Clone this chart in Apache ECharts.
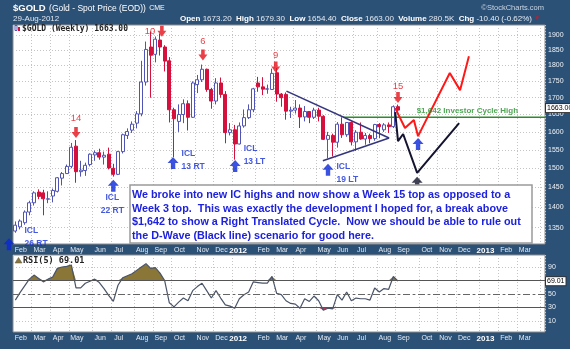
<!DOCTYPE html>
<html>
<head>
<meta charset="utf-8">
<script src="https://cdn.jsdelivr.net/npm/echarts@6.0.0/dist/echarts.min.js"></script>
<style>
html,body{margin:0;padding:0;background:#2c5177;}
#chart{width:570px;height:349px;}
</style>
</head>
<body>
<div id="chart"></div>
<script>
// ---------------- data ----------------
const MONTH_NAMES = ['Jan','Feb','Mar','Apr','May','Jun','Jul','Aug','Sep','Oct','Nov','Dec'];
const FIRST_WEEK = '2011-01-31';
const WEEK_COUNT = 114;

// weekly bars [open, high, low, close]
const weekOHLC = [
 [1342,1365,1338,1356],[1352,1370,1346,1366],[1362,1392,1357,1388],[1388,1416,1380,1411],
 [1411,1440,1404,1436],[1438,1445,1420,1427],[1436,1444,1380,1421],[1420,1440,1410,1421],
 [1428,1447,1412,1442],[1440,1477,1437,1475],[1474,1490,1455,1486],[1486,1510,1485,1505],
 [1505,1569,1500,1557],[1560,1577,1462,1491],[1491,1520,1478,1495],[1494,1515,1480,1508],
 [1510,1540,1505,1538],[1536,1548,1520,1542],[1542,1553,1523,1530],[1530,1545,1510,1535],
 [1538,1556,1497,1501],[1500,1512,1478,1484],[1484,1547,1482,1545],[1545,1595,1540,1592],
 [1590,1610,1580,1601],[1605,1630,1597,1622],[1625,1660,1610,1652],[1652,1815,1645,1748],
 [1748,1878,1737,1852],[1860,1912,1700,1833],[1836,1895,1810,1886],[1883,1905,1832,1860],
 [1860,1866,1781,1814],[1815,1827,1627,1664],[1664,1670,1530,1638],[1630,1680,1600,1650],
 [1650,1695,1625,1682],[1682,1692,1604,1642],[1642,1750,1640,1745],[1740,1770,1714,1755],
 [1755,1803,1748,1788],[1788,1790,1718,1725],[1725,1730,1667,1690],[1690,1760,1680,1745],
 [1745,1762,1700,1710],[1710,1720,1568,1598],[1598,1625,1590,1606],[1606,1620,1523,1566],
 [1566,1627,1565,1617],[1617,1665,1612,1641],[1641,1680,1637,1664],[1664,1730,1657,1727],
 [1745,1764,1718,1733],[1733,1763,1708,1726],[1726,1740,1712,1727],[1725,1790,1724,1775],
 [1777,1792,1688,1711],[1711,1714,1673,1700],[1710,1716,1635,1660],[1660,1673,1640,1663],
 [1663,1693,1653,1669],[1669,1680,1611,1643],[1643,1675,1630,1659],[1659,1660,1625,1642],
 [1642,1670,1637,1663],[1663,1670,1630,1645],[1645,1648,1577,1579],[1579,1600,1527,1590],
 [1590,1595,1532,1571],[1571,1628,1556,1622],[1622,1642,1583,1592],[1592,1628,1586,1627],
 [1627,1630,1562,1572],[1572,1605,1547,1599],[1599,1627,1578,1580],[1580,1597,1564,1590],
 [1590,1595,1568,1581],[1581,1623,1575,1621],[1621,1625,1582,1615],[1606,1625,1600,1620],
 [1620,1627,1597,1615],[1615,1677,1611,1673],[1673.2,1679.3,1654.4,1663.0]
];

const rsi5 = [41,52,62,72,78,73,68,72,75,88,90,91,93,59,59,66,69,72,67,58,
 48,39,63,74,77,80,85,90,95,88,89,81,70,37,31,38,44,40,55,61,
 66,55,44,55,44,34,32,29,43,49,53,68,67,66,66,76,51,49,40,36,
 35,29,43,39,47,40,26,29,28,49,41,53,40,44,43,43,41,59,53,58,
 57,76,69.01];

const priceTicks = [1350,1400,1450,1500,1550,1600,1650,1700,1750,1800,1850,1900];
const rsiLabelTicks = [10,30,50,90];
const rsiGridLevels = [10,30,50,70,90];
const rsiBands = [70,50,30];

// annotation paths: [week position, price]
const triangleUpper = [[58.1,1720],[80.1,1583]];
const triangleLower = [[65.9,1520],[80.1,1583]];
const bullPath  = [[81.4,1669],[83.5,1611],[85.4,1634],[86.3,1588],[93.1,1776],[95.3,1723],[97.2,1830]];
const dWavePath = [[81.4,1657],[82.0,1574],[83.1,1594],[86.1,1488],[95.1,1625]];
const investorHigh = {price:1642, fromWeek:70.2, labelWeek:86.1, text:'$1,642 Investor Cycle High'};

const cycleTops = [
  {text:'14', week:13,   price:1598},
  {text:'10', week:31.4, price:1913},
  {text:'6',  week:40.2, price:1834},
  {text:'9',  week:55.8, price:1795},
  {text:'15', week:82,   price:1701}
];
const cycleLows = [
  {text:'ICL\n26 RT', week:-1.36, price:1311},
  {text:'ICL\n22 RT', week:21,    price:1454},
  {text:'ICL\n13 RT', week:33.8,  price:1514},
  {text:'ICL\n13 LT', week:47.1,  price:1506},
  {text:'ICL\n19 LT', week:67,    price:1496},
  {text:'',           week:86.3,  price:1566}
];
const dWaveLow = [{week:86.1, price:1462}];

const noteLines = [
  'We broke into new IC highs and now show a Week 15 top as opposed to a',
  'Week 3 top.  This was exactly the development I hoped for, a break above',
  '$1,642 to show a Right Translated Cycle.  Now we should be able to rule out',
  'the D-Wave (Black line) scenario for good here.'
];
const quote = {date:'29-Aug-2012', volume:'280.5K', chg:'-10.40 (-0.62%)'};

// ---------------- layout / styles ----------------
const LN = Math.log;
const PRICE_MIN = 1311.5, PRICE_MAX = 1934;
const BG = '#2c5177';
const FONT = '"Liberation Sans", Arial, sans-serif';
const DOWN_ARROW = 'path://M3,0L7,0L7,5L10,5L5,11L0,5L3,5Z';
const UP_ARROW = 'path://M5,0L10,6L7,6L7,12L3,12L3,6L0,6Z';
const CLEAR = 'rgba(0,0,0,0)';

const weeks = [], monthLabels = [], monthStart = [];
{
  const t0 = Date.parse(FIRST_WEEK + 'T00:00:00Z');
  for (let i = 0; i < WEEK_COUNT; i++) {
    const t = t0 + i * 7 * 864e5;
    weeks.push(new Date(t).toISOString().slice(0,10));
    let lab = '';
    for (let k = 0; k < 7; k++) {
      const d = new Date(t + k * 864e5);
      if (d.getUTCDate() === 1) lab = d.getUTCMonth() === 0 ? String(d.getUTCFullYear()) : MONTH_NAMES[d.getUTCMonth()];
    }
    monthStart.push(lab !== '');
    monthLabels.push(i > WEEK_COUNT - 3 ? '' : lab);
  }
}

const lowLabelStyle = {
  'ICL\n26 RT': {position:[21,-1], align:'left'},
  'ICL\n22 RT': {position:[4.5,24], align:'center'},
  'ICL\n13 RT': {position:[14,3], align:'left'},
  'ICL\n13 LT': {position:[14,-5], align:'left'},
  'ICL\n19 LT': {position:[14,9], align:'left'}
};
const topLabelStyle = {
  '14': {position:'top', distance:4},
  '10': {position:'left', distance:2},
  '6':  {position:'top', distance:3},
  '9':  {position:'top', distance:1},
  '15': {position:'top', distance:1}
};

function catAxis(gridIndex) {
  return {
    type:'category', gridIndex, data:weeks, boundaryGap:true,
    axisLine:{show:false}, axisTick:{show:false},
    axisLabel:{
      show:true, margin:3, align:'center',
      interval:(i) => monthLabels[i] !== '',
      formatter:(v, i) => {
        const t = monthLabels[i];
        return /^\d/.test(t) ? '{y|' + t + '}' : '{m|' + t + '}';
      },
      rich:{
        m:{fontSize:7, color:'#e4eaf1', fontFamily:FONT, padding:[0,0,0,11]},
        y:{fontSize:8, fontWeight:'bold', color:'#ffffff', fontFamily:FONT, padding:[0,0,0,7]}
      }
    },
    splitLine:{show:true, interval:(i) => monthStart[i], lineStyle:{color:'#c4c4c4', type:[1,2], width:1}}
  };
}

const lastBar = weekOHLC[weekOHLC.length - 1];
const lastRsi = rsi5[rsi5.length - 1];
const pt = (w, p) => [w, LN(p)];
const tagLabel = (text) => ({show:true, position:'end', distance:1, formatter:text, color:'#000', fontSize:7,
  backgroundColor:'#ffffff', borderColor:'#333', borderWidth:1, padding:[1,1,0,1]});

const option = {
  animation:false,
  backgroundColor:BG,
  textStyle:{fontFamily:FONT},
  grid:[
    {left:13, top:25, width:532, height:219, show:true, backgroundColor:'#ffffff', borderColor:'#8c8c8c', borderWidth:1, containLabel:false, outerBoundsMode:'none'},
    {left:13, top:255, width:532, height:77, show:true, backgroundColor:'#ffffff', borderColor:'#8c8c8c', borderWidth:1, containLabel:false, outerBoundsMode:'none'}
  ],
  xAxis:[
    catAxis(0),
    {type:'value', gridIndex:0, min:-0.5, max:WEEK_COUNT - 0.5, show:false},
    catAxis(1)
  ],
  yAxis:[
    {gridIndex:0, type:'value', position:'right', min:LN(PRICE_MIN), max:LN(PRICE_MAX),
     axisLine:{show:false},
     axisTick:{show:false, customValues:priceTicks.map(LN)},
     axisLabel:{customValues:priceTicks.map(LN), formatter:(v) => String(Math.round(Math.exp(v))), color:'#eef2f6', fontSize:7, margin:3},
     splitLine:{show:true, lineStyle:{color:'#c4c4c4', type:[1,2]}}},
    {gridIndex:1, type:'value', position:'right', min:-6.3, max:107.8,
     axisLine:{show:false},
     axisTick:{show:false, customValues:rsiGridLevels},
     axisLabel:{customValues:rsiLabelTicks, color:'#eef2f6', fontSize:7, margin:3},
     splitLine:{show:true, lineStyle:{color:'#c4c4c4', type:[1,2]}}}
  ],
  series:[
    {
      type:'candlestick', xAxisIndex:0, yAxisIndex:0, barWidth:3.6, z:2,
      data:weekOHLC.map(([o,h,l,c]) => [LN(o), LN(c), LN(l), LN(h)]),
      itemStyle:{color:'#ffffff', color0:'#d5103c', borderColor:'#5054b4', borderColor0:'#d5103c', borderWidth:1},
      markLine:{silent:true, symbol:'none', data:[
        {yAxis:LN(lastBar[3]), lineStyle:{color:CLEAR, width:1}, label:tagLabel(lastBar[3].toFixed(2))}
      ]}
    },
    {type:'line', xAxisIndex:1, yAxisIndex:0, data:triangleUpper.map(([w,p]) => pt(w,p)), symbol:'none', lineStyle:{color:'#35357e', width:1.6}, z:5, silent:true},
    {type:'line', xAxisIndex:1, yAxisIndex:0, data:triangleLower.map(([w,p]) => pt(w,p)), symbol:'none', lineStyle:{color:'#35357e', width:1.6}, z:5, silent:true},
    {type:'line', xAxisIndex:1, yAxisIndex:0, data:[pt(investorHigh.fromWeek, investorHigh.price), pt(WEEK_COUNT - 0.5, investorHigh.price)], symbol:'none', lineStyle:{color:'#2e8b2e', width:1.5}, z:4, silent:true},
    {type:'line', xAxisIndex:1, yAxisIndex:0, data:bullPath.map(([w,p]) => pt(w,p)), symbol:'none', lineStyle:{color:'#ff1818', width:2}, z:6, silent:true},
    {type:'line', xAxisIndex:1, yAxisIndex:0, data:dWavePath.map(([w,p]) => pt(w,p)), symbol:'none', lineStyle:{color:'#141430', width:2}, z:6, silent:true},
    {
      type:'scatter', xAxisIndex:1, yAxisIndex:0, symbolSize:1, z:7, clip:false, silent:true,
      data:[{value:pt(investorHigh.labelWeek, investorHigh.price),
             label:{show:true, formatter:investorHigh.text, position:[0,-6], align:'left', verticalAlign:'middle',
                    color:'#23902a', fontSize:8, fontWeight:'bold'}}],
      itemStyle:{color:CLEAR}
    },
    {
      type:'scatter', xAxisIndex:1, yAxisIndex:0, symbol:DOWN_ARROW, symbolSize:[9,11], z:8, clip:false, silent:true,
      itemStyle:{color:'#e5121c'},
      data:cycleTops.map(t => ({value:pt(t.week, t.price),
        label:Object.assign({show:true, formatter:t.text, color:'#e5121c', fontSize:9.5}, topLabelStyle[t.text])}))
    },
    {
      type:'scatter', xAxisIndex:1, yAxisIndex:0, symbol:UP_ARROW, symbolSize:[11,12], z:8, clip:false, silent:true,
      itemStyle:{color:'#0a27d8'},
      data:cycleLows.map(t => ({value:pt(t.week, t.price),
        label:t.text ? Object.assign({show:true, formatter:t.text, color:'#1630d8', fontSize:8.5, fontWeight:'bold',
                          lineHeight:13, verticalAlign:'middle'}, lowLabelStyle[t.text]) : {show:false}}))
    },
    {
      type:'scatter', xAxisIndex:1, yAxisIndex:0, symbol:UP_ARROW, symbolSize:[11,12], z:8, clip:false, silent:true,
      itemStyle:{color:'#101028'},
      data:dWaveLow.map(t => pt(t.week, t.price))
    },
    {type:'line', xAxisIndex:2, yAxisIndex:1, data:rsi5.map(v => Math.max(v, 70)), symbol:'none',
     lineStyle:{width:0}, areaStyle:{color:'#8a7636', origin:70, opacity:1}, z:2, silent:true},
    {type:'line', xAxisIndex:2, yAxisIndex:1, data:rsi5.map(v => Math.min(v, 30)), symbol:'none',
     lineStyle:{width:0}, areaStyle:{color:'#b83a5a', origin:30, opacity:1}, z:2, silent:true},
    {
      type:'line', xAxisIndex:2, yAxisIndex:1, data:rsi5, symbol:'none', z:4, silent:true,
      lineStyle:{color:'#4a5468', width:1.2},
      markLine:{silent:true, symbol:'none', data:[
        {yAxis:rsiBands[0], lineStyle:{color:'#555555', width:1, type:'solid'}, label:{show:false}},
        {yAxis:rsiBands[2], lineStyle:{color:'#555555', width:1, type:'solid'}, label:{show:false}},
        {yAxis:rsiBands[1], lineStyle:{color:'#666666', width:1.2, type:[7,3,2,3]}, label:{show:false}},
        {yAxis:lastRsi, lineStyle:{color:CLEAR, width:1}, label:tagLabel(lastRsi.toFixed(2))}
      ]}
    }
  ],
  graphic:[
    {type:'text', x:13, y:8.5, z:100, style:{
      text:'{t|$GOLD} {n|(Gold - Spot Price (EOD))} {s|CME}', verticalAlign:'middle', textVerticalAlign:'middle',
      rich:{t:{fontSize:9.5, fontWeight:'bold', fill:'#ffffff', fontFamily:FONT},
            n:{fontSize:8.5, fill:'#ffffff', fontFamily:FONT},
            s:{fontSize:7, fill:'#ffffff', fontFamily:FONT}}}},
    {type:'text', x:13, y:18.5, z:100, style:{text:quote.date, fontSize:8, fontFamily:FONT, fill:'#dfe6ee', verticalAlign:'middle', textVerticalAlign:'middle'}},
    {type:'text', x:180, y:18.5, z:100, style:{
      text:'{b|Open} ' + lastBar[0].toFixed(2) + '  {b|High} ' + lastBar[1].toFixed(2) + '  {b|Low} ' + lastBar[2].toFixed(2) +
           '  {b|Close} ' + lastBar[3].toFixed(2) + '  {b|Volume} ' + quote.volume + '  {b|Chg} ' + quote.chg + ' {r|▼}',
      fontSize:8, fontFamily:FONT, fill:'#e6ecf2', verticalAlign:'middle', textVerticalAlign:'middle',
      rich:{b:{fontSize:8, fontWeight:'bold', fill:'#ffffff', fontFamily:FONT}, r:{fontSize:6, fill:'#e01020'}}}},
    {type:'text', x:544, y:8, z:100, style:{text:'©StockCharts.com', fontSize:7.5, fontFamily:FONT, fill:'#c9d5e2',
      align:'right', textAlign:'right', verticalAlign:'middle', textVerticalAlign:'middle'}},
    {type:'rect', x:15, y:25.5, z:100, shape:{x:0, y:0, width:2, height:5}, style:{fill:'#ffffff', stroke:'#5054b4', lineWidth:1}},
    {type:'rect', x:18, y:27, z:100, shape:{x:0, y:0, width:2, height:4}, style:{fill:'#d5103c'}},
    {type:'text', x:22, y:28.8, z:100, style:{text:'$GOLD (Weekly) ' + lastBar[3].toFixed(2), fontSize:8, fontWeight:'bold',
      fontFamily:'"DejaVu Sans Mono", monospace', fill:'#222222', verticalAlign:'middle', textVerticalAlign:'middle'}},
    {type:'polygon', z:100, shape:{points:[[15,263],[18.5,257.5],[22,263]]}, style:{fill:'#8a7636', stroke:'#555', lineWidth:0.5}},
    {type:'text', x:23, y:260.5, z:100, style:{text:'RSI(5) ' + lastRsi.toFixed(2), fontSize:8.5, fontWeight:'bold',
      fontFamily:'"DejaVu Sans Mono", monospace', fill:'#222222', verticalAlign:'middle', textVerticalAlign:'middle'}},
    {type:'group', x:130, y:185, z:100, children:[
      {type:'rect', z:100, shape:{x:0, y:0, width:402, height:58}, style:{fill:'#ffffff', stroke:'#9a9a9a', lineWidth:1.5}},
      {type:'text', z:101, x:2, y:3.3, style:{text:noteLines.join('\n'), fontSize:10.8, fontWeight:'bold', fontFamily:FONT,
        fill:'#1e22dd', lineHeight:13.5}}
    ]}
  ]
};

const chart = echarts.init(document.getElementById('chart'), null, {renderer:'canvas'});
chart.setOption(option);
</script>
</body>
</html>
